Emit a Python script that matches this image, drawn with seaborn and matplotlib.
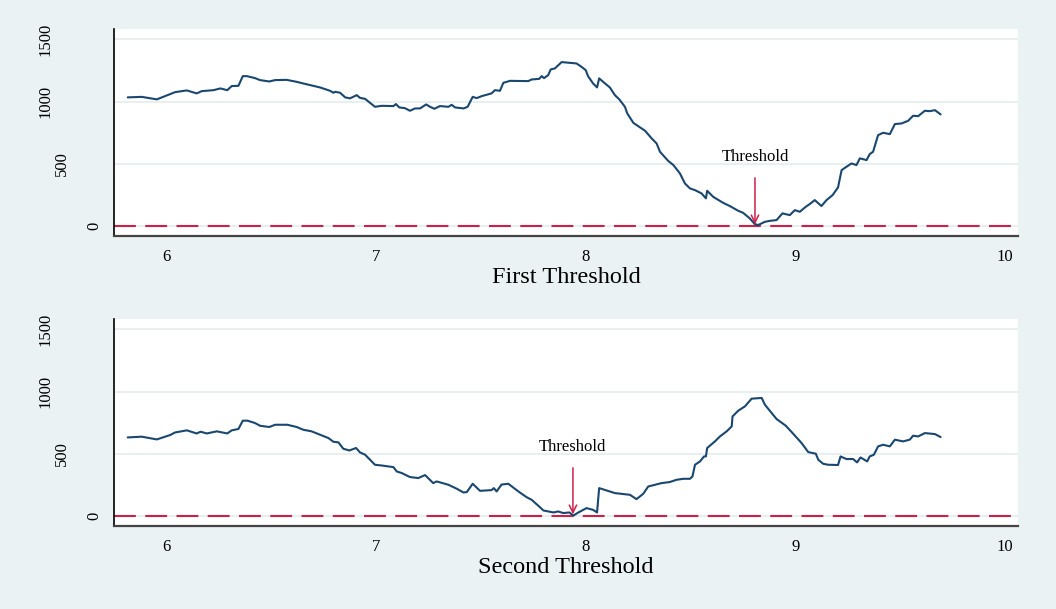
"""
Threshold search plot: criterion value over candidate thresholds, two panels.
"""

import matplotlib
matplotlib.use('Agg')
import matplotlib.pyplot as plt
import matplotlib.transforms as mtransforms
import seaborn as sns

# first threshold search (candidate value, criterion)
thr1_x = [5.817, 5.884, 5.956, 6.043, 6.099, 6.146, 6.170, 6.226, 6.259, 6.292,
          6.313, 6.345, 6.366, 6.385, 6.424, 6.448, 6.492, 6.520, 6.575, 6.623,
          6.654, 6.734, 6.782, 6.798, 6.806, 6.830, 6.854, 6.877, 6.909, 6.925,
          6.949, 6.996, 7.028, 7.084, 7.096, 7.112, 7.139, 7.163, 7.187, 7.211,
          7.240, 7.259, 7.279, 7.306, 7.346, 7.362, 7.378, 7.418, 7.438, 7.462,
          7.481, 7.505, 7.552, 7.568, 7.592, 7.608, 7.640, 7.727, 7.743, 7.779,
          7.791, 7.802, 7.822, 7.834, 7.854, 7.886, 7.957, 7.981, 8.001, 8.012,
          8.036, 8.055, 8.065, 8.084, 8.116, 8.140, 8.161, 8.188, 8.199, 8.228,
          8.268, 8.284, 8.315, 8.339, 8.355, 8.395, 8.419, 8.450, 8.474, 8.498,
          8.522, 8.553, 8.574, 8.580, 8.609, 8.656, 8.688, 8.728, 8.751, 8.783,
          8.807, 8.823, 8.855, 8.879, 8.911, 8.939, 8.974, 8.998, 9.022, 9.050,
          9.069, 9.093, 9.125, 9.149, 9.178, 9.204, 9.221, 9.244, 9.268, 9.292,
          9.308, 9.340, 9.355, 9.371, 9.395, 9.419, 9.451, 9.475, 9.507, 9.538,
          9.562, 9.586, 9.618, 9.642, 9.666, 9.693]
thr1_y = [1034, 1038, 1018, 1076, 1090, 1066, 1084, 1092, 1106, 1092,
          1125, 1127, 1205, 1205, 1189, 1173, 1162, 1173, 1175, 1159,
          1146, 1114, 1087, 1071, 1079, 1071, 1034, 1026, 1052, 1030,
          1022, 958, 966, 964, 980, 953, 947, 926, 945, 945,
          977, 958, 942, 964, 958, 974, 953, 945, 958, 1038,
          1028, 1044, 1066, 1092, 1087, 1151, 1167, 1165, 1178, 1183,
          1205, 1189, 1213, 1259, 1267, 1318, 1307, 1280, 1253, 1205,
          1146, 1114, 1187, 1159, 1114, 1052, 1018, 958, 905, 829,
          784, 765, 704, 663, 596, 521, 489, 422, 341, 301,
          287, 261, 221, 282, 233, 185, 159, 121, 105, 60,
          14, 6, 32, 40, 46, 100, 86, 126, 113, 153,
          175, 207, 159, 207, 247, 309, 448, 475, 502, 489,
          543, 529, 577, 596, 730, 749, 738, 819, 824, 845,
          886, 883, 926, 923, 931, 897]

# second threshold search
thr2_x = [5.817, 5.884, 5.956, 6.019, 6.043, 6.099, 6.146, 6.165, 6.194, 6.242,
          6.292, 6.313, 6.345, 6.366, 6.388, 6.424, 6.448, 6.492, 6.520, 6.578,
          6.623, 6.654, 6.694, 6.734, 6.774, 6.798, 6.822, 6.845, 6.874, 6.906,
          6.925, 6.949, 6.996, 7.028, 7.084, 7.100, 7.124, 7.163, 7.203, 7.235,
          7.274, 7.290, 7.346, 7.386, 7.418, 7.434, 7.462, 7.497, 7.552, 7.563,
          7.576, 7.600, 7.632, 7.680, 7.719, 7.743, 7.775, 7.799, 7.823, 7.847,
          7.870, 7.894, 7.923, 7.942, 7.966, 8.005, 8.036, 8.055, 8.065, 8.100,
          8.140, 8.172, 8.212, 8.243, 8.275, 8.299, 8.331, 8.362, 8.402, 8.434,
          8.466, 8.498, 8.510, 8.522, 8.546, 8.565, 8.574, 8.580, 8.617, 8.641,
          8.673, 8.697, 8.701, 8.728, 8.760, 8.792, 8.840, 8.855, 8.887, 8.911,
          8.955, 8.990, 9.030, 9.062, 9.098, 9.110, 9.133, 9.157, 9.204, 9.216,
          9.244, 9.276, 9.295, 9.311, 9.343, 9.355, 9.375, 9.395, 9.419, 9.451,
          9.475, 9.514, 9.546, 9.562, 9.586, 9.618, 9.666, 9.693]
thr2_y = [631, 637, 615, 650, 671, 688, 663, 677, 663, 680,
          663, 688, 699, 766, 766, 747, 725, 715, 733, 733,
          715, 693, 680, 653, 626, 596, 591, 540, 526, 546,
          510, 492, 411, 405, 392, 357, 344, 312, 304, 328,
          263, 277, 250, 218, 188, 191, 258, 201, 207, 223,
          196, 252, 258, 196, 150, 129, 81, 43, 35, 27,
          35, 22, 27, 2, 27, 62, 48, 27, 223, 204,
          183, 177, 169, 134, 177, 236, 250, 263, 272, 290,
          298, 298, 317, 411, 438, 478, 478, 546, 599, 639,
          680, 720, 800, 846, 881, 943, 949, 895, 828, 779,
          725, 661, 586, 513, 500, 451, 419, 411, 409, 478,
          457, 457, 430, 470, 438, 478, 492, 559, 572, 559,
          613, 599, 613, 645, 639, 666, 658, 634]

panel_titles = ['First Threshold', 'Second Threshold']
threshold_at = [8.808, 7.940]
x_ticks = [6, 7, 8, 9, 10]
y_ticks = [0, 500, 1000, 1500]

NAVY = '#1a476f'
RED = '#cf1f49'
BG = '#eaf2f3'
SERIF = ['Liberation Serif', 'DejaVu Serif']


def draw_panel(fig, ax, xs, ys, title, thr):
    """One panel: criterion line, zero reference, threshold arrow."""
    ax.grid(axis='y', color='#e6eef0', lw=1.3)
    ax.grid(axis='x', visible=False)
    ax.axhline(0, color=RED, lw=1.5, dashes=(10.5, 4.5), zorder=2)
    sns.lineplot(x=xs, y=ys, ax=ax, color=NAVY, lw=1.5, zorder=3)

    ax.annotate('Threshold', xy=(thr, 12), xytext=(thr, 555),
                ha='center', va='center', fontsize=12, family=SERIF,
                color='black',
                arrowprops=dict(arrowstyle='->,head_length=0.45,head_width=0.22',
                                color=RED, lw=1.1, shrinkA=7, shrinkB=0))

    ax.set_xlim(5.752, 10.062)
    ax.set_ylim(-82, 1585)
    ax.set_xticks(x_ticks, labels=[str(v) for v in x_ticks])
    ax.set_yticks(y_ticks, labels=[str(v) for v in y_ticks])
    ax.set_xlabel(title, fontsize=17.5, family=SERIF, labelpad=1, color='black')
    ax.set_ylabel('')

    for side in ['top', 'right']:
        ax.spines[side].set_visible(False)
    ax.spines['left'].set_color('black')
    ax.spines['left'].set_linewidth(1.2)
    ax.spines['bottom'].set_color('#444444')
    ax.spines['bottom'].set_linewidth(1.6)

    ax.tick_params(axis='x', length=4.5, width=1.2, color='#444444', pad=5,
                   labelsize=12, labelcolor='black')
    ax.tick_params(axis='y', length=5.5, width=1.0, color='#444444', pad=3.2,
                   labelsize=12, labelcolor='black')
    for lab in ax.get_xticklabels():
        lab.set_family(SERIF)
    # vertical y labels, longer labels sit further from the axis
    for lab in ax.get_yticklabels():
        lab.set_family(SERIF)
        lab.set_rotation(90)
        lab.set_va('center')
        lab.set_ha('right')
        shift = mtransforms.ScaledTranslation(
            -0.16 * (len(lab.get_text()) - 1), 0, fig.dpi_scale_trans)
        lab.set_transform(lab.get_transform() + shift)


def plot_thresholds(save_path='out.png'):
    sns.set_theme(style='white')
    plt.rcParams['font.family'] = SERIF
    plt.rcParams['text.color'] = 'black'

    fig = plt.figure(figsize=(10.56, 6.09), dpi=100, facecolor=BG)
    ax1 = fig.add_axes([0.108, 0.6125, 0.856, 0.340])
    ax2 = fig.add_axes([0.108, 0.1363, 0.856, 0.340])

    draw_panel(fig, ax1, thr1_x, thr1_y, panel_titles[0], threshold_at[0])
    draw_panel(fig, ax2, thr2_x, thr2_y, panel_titles[1], threshold_at[1])

    fig.savefig(save_path, dpi=100, facecolor=BG)
    plt.close(fig)


if __name__ == '__main__':
    plot_thresholds()
